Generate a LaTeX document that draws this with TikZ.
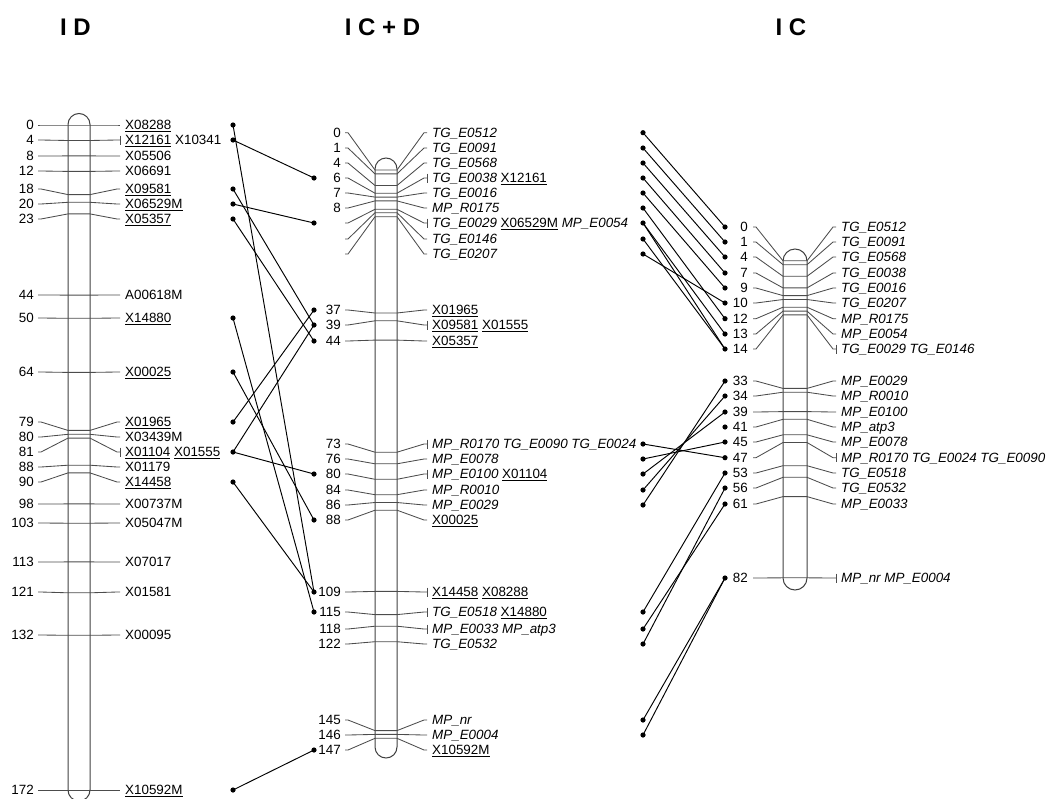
\documentclass[tikz,border=0pt]{standalone}
\usepackage{fontspec}
\setmainfont{Liberation Sans}
\newcommand{\uln}[1]{\underline{#1}}
\newcommand{\itl}[1]{\textit{#1}}
\begin{document}
\begin{tikzpicture}[x=1pt,y=-1pt,
  chrom/.style={draw=black!75, line width=1pt},
  tick/.style={draw=black!70, line width=0.85pt},
  conn/.style={draw=black, line width=0.95pt},
  dotc/.style={fill=black},
  numl/.style={anchor=base east, inner sep=0pt, font=\fontsize{13.4}{15}\selectfont},
  labl/.style={anchor=base west, inner sep=0pt, font=\fontsize{13.4}{15}\selectfont},
  ttl/.style={anchor=base, inner sep=0pt, font=\fontsize{24}{28}\selectfont\bfseries}]
\useasboundingbox (0,0) rectangle (1046,798);
\clip (0,0) rectangle (1046,798);

% titles
\node[ttl] (tID) at (75.5,35) {I D};
\node[ttl] (tICD) at (382.5,35) {I C + D};
\node[ttl] (tIC) at (791,35) {I C};

% chromosomes
\draw[chrom, rounded corners=11pt] (68,113.5) rectangle (90,801);
\draw[chrom, rounded corners=11pt] (375,158) rectangle (397,758);
\draw[chrom, rounded corners=12pt] (783,249) rectangle (807,590);

% left map (I D)
\foreach \nm/\nu/\ly/\cy/\lb/\mu in {
 A0/0/125/125/{\uln{X08288}}/0,
 A4/4/140/140.5/{\uln{X12161} X10341}/1,
 A8/8/156/155.9/{X05506}/0,
 A12/12/171/171.4/{X06691}/0,
 A18/18/189/194.6/{\uln{X09581}}/0,
 A20/20/204/202.3/{\uln{X06529M}}/0,
 A23/23/219/213.9/{\uln{X05357}}/0,
 A44/44/295/295.1/{A00618M}/0,
 A50/50/318/318.3/{\uln{X14880}}/0,
 A64/64/372/372.4/{\uln{X00025}}/0,
 A79/79/422/430.4/{\uln{X01965}}/0,
 A80/80/437/434.3/{X03439M}/0,
 A81/81/452/438.1/{\uln{X01104} \uln{X01555}}/1,
 A88/88/467/465.2/{X01179}/0,
 A90/90/482/472.9/{\uln{X14458}}/0,
 A98/98/504/503.9/{X00737M}/0,
 A103/103/523/523.2/{X05047M}/0,
 A113/113/562/561.9/{X07017}/0,
 A121/121/592/592.8/{X01581}/0,
 A132/132/635/635.3/{X00095}/0,
 A172/172/790/790/{\uln{X10592M}}/0}{
  \draw[tick] (38,\ly) -- (41,\ly) -- (68,\cy) -- (90,\cy) -- (117,\ly) -- (120,\ly);
  \ifnum\mu=1 \draw[tick] (120,\ly-4.5) -- (120,\ly+4.5); \fi
  \node[numl] (n\nm) at (34,\ly+4.8) {\nu};
  \node[labl] (l\nm) at (125,\ly+4.8) {\lb};
}

% middle map (I C + D)
\foreach \nm/\nu/\ly/\cy/\lb/\mu in {
 B0/0/132.7/170/{\itl{TG\_E0512}}/0,
 B1/1/148/173.9/{\itl{TG\_E0091}}/0,
 B4/4/163/185.5/{\itl{TG\_E0568}}/0,
 B6/6/178/193.2/{\itl{TG\_E0038} \uln{X12161}}/1,
 B7/7/193/197.1/{\itl{TG\_E0016}}/0,
 B8/8/208/200.9/{\itl{MP\_R0175}}/0,
 B10//223/209.3/{\itl{TG\_E0029} \uln{X06529M} \itl{MP\_E0054}}/1,
 B11//239/212.7/{\itl{TG\_E0146}}/0,
 B12//254/216.7/{\itl{TG\_E0207}}/0,
 B37/37/310/313/{\uln{X01965}}/0,
 B39/39/325/320.8/{\uln{X09581} \uln{X01555}}/1,
 B44/44/341/340.1/{\uln{X05357}}/0,
 B73/73/444/452.2/{\itl{MP\_R0170 TG\_E0090 TG\_E0024}}/1,
 B76/76/459/463.8/{\itl{MP\_E0078}}/0,
 B80/80/474/479.3/{\itl{MP\_E0100} \uln{X01104}}/1,
 B84/84/490/494.7/{\itl{MP\_R0010}}/0,
 B86/86/505/502.5/{\itl{MP\_E0029}}/0,
 B88/88/520/510.2/{\uln{X00025}}/0,
 B109/109/592/591.4/{\uln{X14458} \uln{X08288}}/1,
 B115/115/612/614.6/{\itl{TG\_E0518} \uln{X14880}}/1,
 B118/118/629/626.2/{\itl{MP\_E0033 MP\_atp3}}/1,
 B122/122/644/641.7/{\itl{TG\_E0532}}/0,
 B145/145/720/730.6/{\itl{MP\_nr}}/0,
 B146/146/735/734.4/{\itl{MP\_E0004}}/0,
 B147/147/750/738.3/{\uln{X10592M}}/0}{
  \draw[tick] (345,\ly) -- (348,\ly) -- (375,\cy) -- (397,\cy) -- (424,\ly) -- (427,\ly);
  \ifnum\mu=1 \draw[tick] (427,\ly-4.5) -- (427,\ly+4.5); \fi
  \node[numl] (n\nm) at (341,\ly+4.8) {\nu};
  \node[labl] (l\nm) at (432,\ly+4.8) {\lb};
}

% right map (I C)
\foreach \nm/\nu/\ly/\cy/\lb/\mu in {
 D0/0/227/260.8/{\itl{TG\_E0512}}/0,
 D1/1/242/264.7/{\itl{TG\_E0091}}/0,
 D4/4/257/276.3/{\itl{TG\_E0568}}/0,
 D7/7/273/287.9/{\itl{TG\_E0038}}/0,
 D9/9/288/295.6/{\itl{TG\_E0016}}/0,
 D10/10/303/299.5/{\itl{TG\_E0207}}/0,
 D12/12/318.7/307.2/{\itl{MP\_R0175}}/0,
 D13/13/334/311.1/{\itl{MP\_E0054}}/0,
 D14/14/349/314.9/{\itl{TG\_E0029 TG\_E0146}}/1,
 D33/33/381/388.4/{\itl{MP\_E0029}}/0,
 D34/34/396/392.2/{\itl{MP\_R0010}}/0,
 D39/39/412/411.6/{\itl{MP\_E0100}}/0,
 D41/41/427/419.3/{\itl{MP\_atp3}}/0,
 D45/45/442/434.8/{\itl{MP\_E0078}}/0,
 D47/47/457.7/442.5/{\itl{MP\_R0170 TG\_E0024 TG\_E0090}}/1,
 D53/53/473/465.7/{\itl{TG\_E0518}}/0,
 D56/56/488/477.3/{\itl{TG\_E0532}}/0,
 D61/61/504/496.6/{\itl{MP\_E0033}}/0,
 D82/82/578/577.8/{\itl{MP\_nr MP\_E0004}}/1}{
  \draw[tick] (753,\ly) -- (756,\ly) -- (783,\cy) -- (807,\cy) -- (833,\ly) -- (836,\ly);
  \ifnum\mu=1 \draw[tick] (836,\ly-4.5) -- (836,\ly+4.5); \fi
  \node[numl] (n\nm) at (748,\ly+4.8) {\nu};
  \node[labl] (l\nm) at (841,\ly+4.8) {\lb};
  \coordinate (r\nm) at (725,\ly);
  \fill[dotc] (r\nm) circle (2.6pt);
}

% dots: left map side
\foreach \nm/\y in {A0/125,A4/140,A18/189,A20/204,A23/219,A50/318,A64/372,A79/422,A81/452,A90/482,A172/790}{
  \coordinate (p\nm) at (233,\y);
  \fill[dotc] (p\nm) circle (2.6pt);
}
% dots: middle map, left side
\foreach \nm/\y in {B6/178,B10/223,B37/310,B39/325,B44/341,B80/474,B88/520,B109/592,B115/612,B147/750}{
  \coordinate (q\nm) at (314,\y);
  \fill[dotc] (q\nm) circle (2.6pt);
}
% dots: middle map, right side
\foreach \nm/\y in {B0/132.7,B1/148,B4/163,B6/178,B7/193,B8/208,B10/223,B11/239,B12/254,B73/444,B76/459,B80/474,B84/490,B86/505,B115/612,B118/629,B122/644,B145/720,B146/735}{
  \coordinate (s\nm) at (643,\y);
  \fill[dotc] (s\nm) circle (2.6pt);
}

% connectors I D -> I C + D
\foreach \a/\b in {A0/B109,A4/B6,A18/B39,A20/B10,A23/B44,A50/B115,A64/B88,A79/B37,A81/B39,A81/B80,A90/B109,A172/B147}{
  \draw[conn] (p\a) -- (q\b);
}
% connectors I C + D -> I C
\foreach \a/\b in {B0/D0,B1/D1,B4/D4,B6/D7,B7/D9,B8/D12,B10/D13,B10/D14,B11/D14,B12/D10,B73/D47,B76/D45,B80/D39,B84/D34,B86/D33,B115/D53,B118/D61,B122/D56,B145/D82,B146/D82}{
  \draw[conn] (s\a) -- (r\b);
}
\end{tikzpicture}
\end{document}
